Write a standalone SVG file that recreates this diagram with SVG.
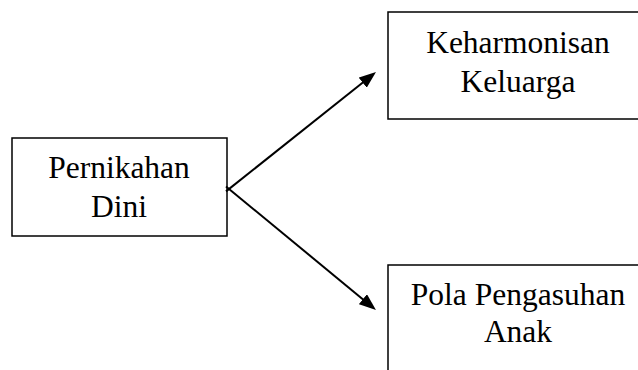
<svg xmlns="http://www.w3.org/2000/svg" width="638" height="370" viewBox="0 0 638 370">
<style>
.box{fill:#fff;stroke:#000;stroke-width:1.5}
.t{font-family:"Liberation Serif","Times New Roman",serif;font-size:31.5px;fill:#000;text-anchor:middle}
.c{stroke:#000;stroke-width:2;fill:none}
</style>
<defs>
<marker id="ah" viewBox="0 0 17 13" refX="5" refY="6.5" markerWidth="17" markerHeight="13" markerUnits="userSpaceOnUse" orient="auto">
<path d="M0,0 L17,6.5 L0,13 z" fill="#000"/>
</marker>
</defs>
<rect width="638" height="370" fill="#fff"/>
<g id="n1">
<rect class="box" x="12" y="138" width="215" height="98"/>
<text class="t" x="119" y="178">Pernikahan</text>
<text class="t" x="119" y="217">Dini</text>
</g>
<g id="n2">
<rect class="box" x="388" y="12" width="260" height="107"/>
<text class="t" x="518" y="53">Keharmonisan</text>
<text class="t" x="518" y="92">Keluarga</text>
</g>
<g id="n3">
<rect class="box" x="388" y="265" width="260" height="120"/>
<text class="t" x="518" y="305">Pola Pengasuhan</text>
<text class="t" x="518" y="342">Anak</text>
</g>
<g id="connectors">
<line class="c" x1="226" y1="191.4" x2="366.6" y2="79.5" marker-end="url(#ah)"/>
<line class="c" x1="226" y1="186.5" x2="366.7" y2="302.4" marker-end="url(#ah)"/>
</g>
</svg>
